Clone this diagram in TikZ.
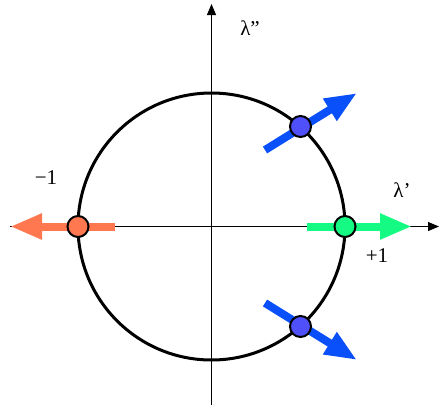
\documentclass[tikz,border=0pt]{standalone}
\usepackage{fontspec}
\usepackage{graphicx}
\setmainfont{Liberation Serif}
\usetikzlibrary{arrows.meta}
\newcommand{\lbltxt}[1]{\scalebox{2}{\fontsize{10.5pt}{12pt}\selectfont #1}}
\begin{document}
\begin{tikzpicture}[x=1pt,y=-1pt,
  axis/.style={line width=1.2pt,-{Triangle[length=11pt,width=9pt]}},
  bigarrow/.style={line width=8pt,-{Triangle[length=32pt,width=24pt]}},
  dot/.style={circle,draw=black,line width=2pt,minimum size=21pt,inner sep=0pt},
  lbl/.style={inner sep=0pt}]
\useasboundingbox (0,0) rectangle (439,408);
\coordinate (xl) at (10,226.5);
\coordinate (xr) at (439,226.5);
\coordinate (yb) at (211.5,405);
\coordinate (yt) at (211.5,4);
\draw[axis] (xl) -- (xr);
\draw[axis] (yb) -- (yt);
\node[draw=black,line width=3pt,circle,minimum size=267pt,inner sep=0pt] (circ) at (211.5,226.5) {};
% arrows
\coordinate (ot) at (115,226.5); \coordinate (oh) at (10,226.5);
\coordinate (gt) at (307,226.5); \coordinate (gh) at (412,226.5);
\coordinate (ut) at (265,150); \coordinate (uh) at (357,93);
\coordinate (lt) at (265,303); \coordinate (lh) at (357,360);
\definecolor{orng}{RGB}{255,120,80}
\definecolor{grn}{RGB}{20,250,130}
\definecolor{blu}{RGB}{10,80,250}
\definecolor{dotblu}{RGB}{80,80,250}
\draw[bigarrow,draw=orng,fill=orng] (ot) -- (oh);
\draw[bigarrow,draw=grn,fill=grn] (gt) -- (gh);
\draw[bigarrow,draw=blu,fill=blu] (ut) -- (uh);
\draw[bigarrow,draw=blu,fill=blu] (lt) -- (lh);
\node[dot,fill=orng] (d1) at (78,226.5) {};
\node[dot,fill=grn] (d2) at (345,226.5) {};
\node[dot,fill=dotblu] (d3) at (300.5,126.5) {};
\node[dot,fill=dotblu] (d4) at (300.5,326.5) {};
\node[lbl] (ly) at (250,28) {\lbltxt{λ”}};
\node[lbl] (lx) at (402,190) {\lbltxt{λ’}};
\node[lbl] (lm) at (46,178) {\lbltxt{−1}};
\node[lbl] (lp) at (377,256) {\lbltxt{+1}};
\end{tikzpicture}
\end{document}
